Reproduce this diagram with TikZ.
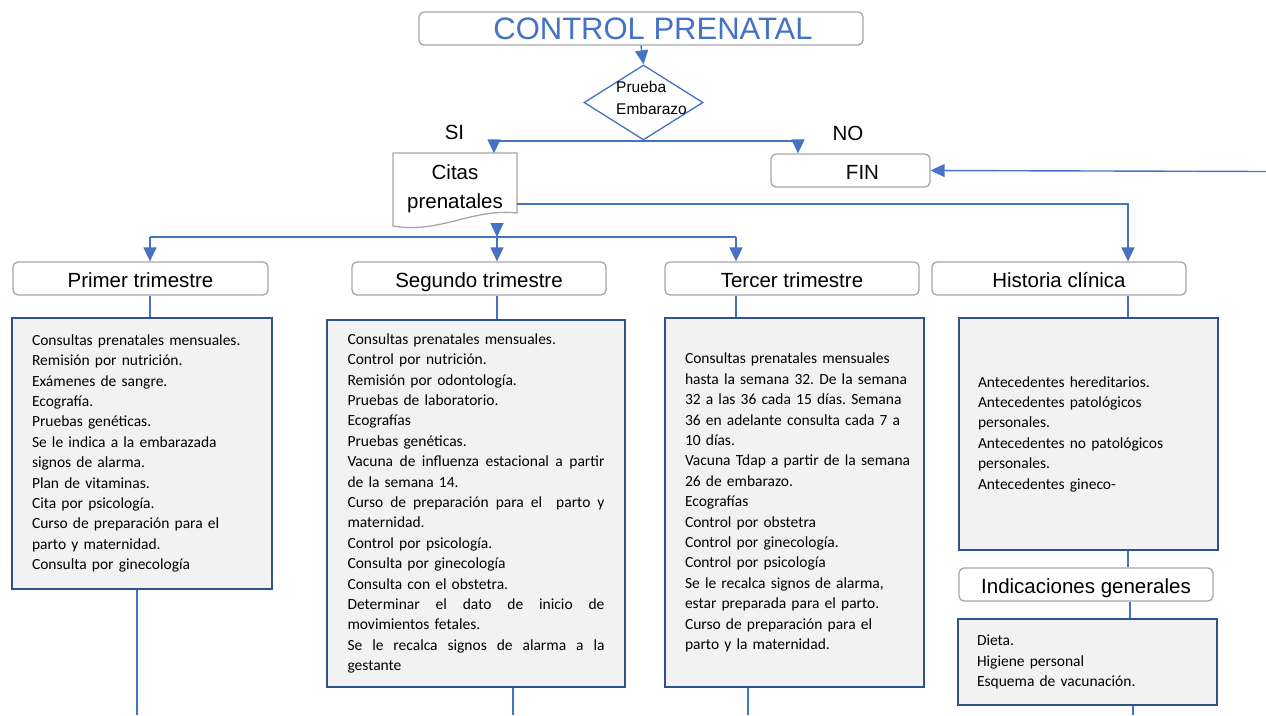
\documentclass[tikz,border=0pt]{standalone}
\usepackage{fontspec}
\setmainfont{Liberation Sans}
\newfontfamily\bodyfont{Carlito}
\usetikzlibrary{arrows.meta,shapes.geometric,calc}
\definecolor{lineblue}{RGB}{68,114,196}
\definecolor{boxblue}{RGB}{47,82,143}
\definecolor{hdrgray}{RGB}{166,166,166}
\definecolor{boxfill}{RGB}{242,242,242}
\frenchspacing
\hyphenpenalty=10000
\exhyphenpenalty=10000
\newcommand\jline[1]{\leavevmode\hbox to 257pt{\spaceskip=\fontdimen2\font plus 1fil\relax #1}}
\newcommand\nl[1]{\leavevmode\hbox{#1}}
\begin{document}
\begin{tikzpicture}[x=1pt,y=-1pt,
 conn/.style={draw=lineblue,line width=1.4pt},
 arr/.style={-{Triangle[width=13pt,length=14pt]}},
 hdr/.style={draw=hdrgray,line width=1.3pt,rounded corners=5pt,fill=white,minimum height=33pt,inner sep=0pt,text height=17.5pt,text depth=0.5pt,font=\fontsize{20.5}{24}\selectfont},
 infobox/.style={draw=boxblue,line width=2.4pt,fill=boxfill,inner sep=0pt,align=left,font=\bodyfont\fontsize{15.5}{20.4}\selectfont},
 lbl/.style={inner sep=0pt,font=\fontsize{20.5}{24}\selectfont},
]
\useasboundingbox (0,0) rectangle (1266,715);
\fill[white] (0,0) rectangle (1266,715);

% title
\node[hdr,minimum width=444pt,font=\fontsize{31}{36}\selectfont,text height=22pt,text depth=1pt,text=lineblue] (title) at (641,28.5) {\hspace*{24pt}CONTROL PRENATAL};

% decision
\node[draw=lineblue,line width=1.3pt,shape=diamond,minimum width=119pt,minimum height=75pt,inner sep=0pt] (dia) at (643.5,102.5) {};
\node[inner sep=0pt,align=left,font=\fontsize{15.5}{22}\selectfont] (diatext) at (651.5,98) {Prueba\\Embarazo};

\node[lbl] (si) at (454.5,132) {SI};
\node[lbl] (no) at (848,133) {NO};

% citas prenatales (document shape)
\draw[draw=hdrgray,line width=1.3pt,fill=white] (393,153) -- (517,153) -- (517,213) .. controls (472,208) and (440,234) .. (393,226) -- cycle;
\node[inner sep=0pt,minimum width=124pt,minimum height=70pt,align=center,font=\fontsize{20.5}{29}\selectfont] (citas) at (455,188.5) {Citas\\prenatales};

% FIN
\node[hdr,minimum width=159pt] (fin) at (850.5,170.5) {\hspace*{24pt}FIN};

% headers
\node[hdr,minimum width=255pt] (h1) at (140.5,278.5) {Primer trimestre};
\node[hdr,minimum width=254pt] (h2) at (479,278.5) {Segundo trimestre};
\node[hdr,minimum width=254pt] (h3) at (792,278.5) {Tercer trimestre};
\node[hdr,minimum width=254pt] (h4) at (1059,278.5) {Historia clínica};
\node[hdr,minimum width=254pt] (h5) at (1086,584.5) {Indicaciones generales};

% info boxes
\node[infobox,minimum width=260pt,minimum height=271pt,text width=220pt] (p1) at (142,453.5) {%
Consultas prenatales mensuales.\\
Remisión por nutrición.\\
Exámenes de sangre.\\
Ecografía.\\
Pruebas genéticas.\\
Se le indica a la embarazada\\
signos de alarma.\\
Plan de vitaminas.\\
Cita por psicología.\\
Curso de preparación para el\\
parto y maternidad.\\
Consulta por ginecología};

\node[infobox,minimum width=298pt,minimum height=367pt,text width=257pt] (p2) at (476,503.5) {%
Consultas prenatales mensuales.\\
Control por nutrición.\\
Remisión por odontología.\\
Pruebas de laboratorio.\\
Ecografías\\
Pruebas genéticas.\\
\jline{Vacuna de influenza estacional a partir}\\
de la semana 14.\\
\jline{Curso de preparación para el \ parto y}\\
maternidad.\\
Control por psicología.\\
Consulta por ginecología\\
Consulta con el obstetra.\\
\jline{Determinar el dato de inicio de}\\
movimientos fetales.\\
\jline{Se le recalca signos de alarma a la}\\
gestante};

\node[infobox,minimum width=259pt,minimum height=369pt,text width=219pt] (p3) at (794.5,502.5) {%
\nl{Consultas prenatales mensuales}\\
\nl{hasta la semana 32. De la semana}\\
\nl{32 a las 36 cada 15 días. Semana}\\
\nl{36 en adelante consulta cada 7 a}\\
\nl{10 días.}\\
\nl{Vacuna Tdap a partir de la semana}\\
\nl{26 de embarazo.}\\
\nl{Ecografías}\\
\nl{Control por obstetra}\\
\nl{Control por ginecología.}\\
\nl{Control por psicología}\\
\nl{Se le recalca signos de alarma,}\\
\nl{estar preparada para el parto.}\\
\nl{Curso de preparación para el}\\
\nl{parto y la maternidad.}};

\node[infobox,minimum width=259pt,minimum height=232pt,text width=221pt] (p4) at (1088.5,434) {%
Antecedentes hereditarios.\\
Antecedentes patológicos\\
personales.\\
Antecedentes no patológicos\\
personales.\\
Antecedentes gineco-};

\node[infobox,minimum width=259pt,minimum height=86pt,text width=221pt] (p5) at (1087.5,662) {%
Dieta.\\
Higiene personal\\
Esquema de vacunación.};

% connector coordinates
\coordinate (siT) at (494,141);
\coordinate (noT) at (798,141);
\coordinate (b1) at (150,237);
\coordinate (b2) at (497,237);
\coordinate (b3) at (736,237);
\coordinate (hc) at (1128,204);
\coordinate (edgeR) at (1266,171.5);
\coordinate (d1) at (137,715);
\coordinate (d2) at (513,715);
\coordinate (d3) at (748,715);
\coordinate (d5) at (1133,715);
\coordinate (x5) at (1130,0);

% connectors
\draw[conn,arr] (title.south) -- (dia.north);
\draw[conn] (siT) -- (noT);
\draw[conn,arr] (siT) -- (siT |- citas.north);
\draw[conn,arr] (noT) -- (noT |- fin.north);
\draw[conn,arr] (edgeR) -- (fin.east);
\draw[conn,arr] (citas.east |- hc) -- (hc) -- (hc |- h4.north);
\draw[conn] (b1) -- (b3);
\draw[conn,arr] (citas.south -| b2) -- (b2);
\draw[conn,arr] (b2) -- (b2 |- h2.north);
\draw[conn,arr] (b1) -- (b1 |- h1.north);
\draw[conn,arr] (b3) -- (b3 |- h3.north);

\draw[conn] (h1.south -| b1) -- (b1 |- p1.north);
\draw[conn] (h2.south -| b2) -- (b2 |- p2.north);
\draw[conn] (h3.south -| b3) -- (b3 |- p3.north);
\draw[conn] (h4.south -| hc) -- (hc |- p4.north);
\draw[conn] (p4.south -| hc) -- (hc |- h5.north);
\draw[conn] (h5.south -| x5) -- (x5 |- p5.north);

\draw[conn] (p1.south -| d1) -- (d1);
\draw[conn] (p2.south -| d2) -- (d2);
\draw[conn] (p3.south -| d3) -- (d3);
\draw[conn] (p5.south -| d5) -- (d5);
\end{tikzpicture}
\end{document}
